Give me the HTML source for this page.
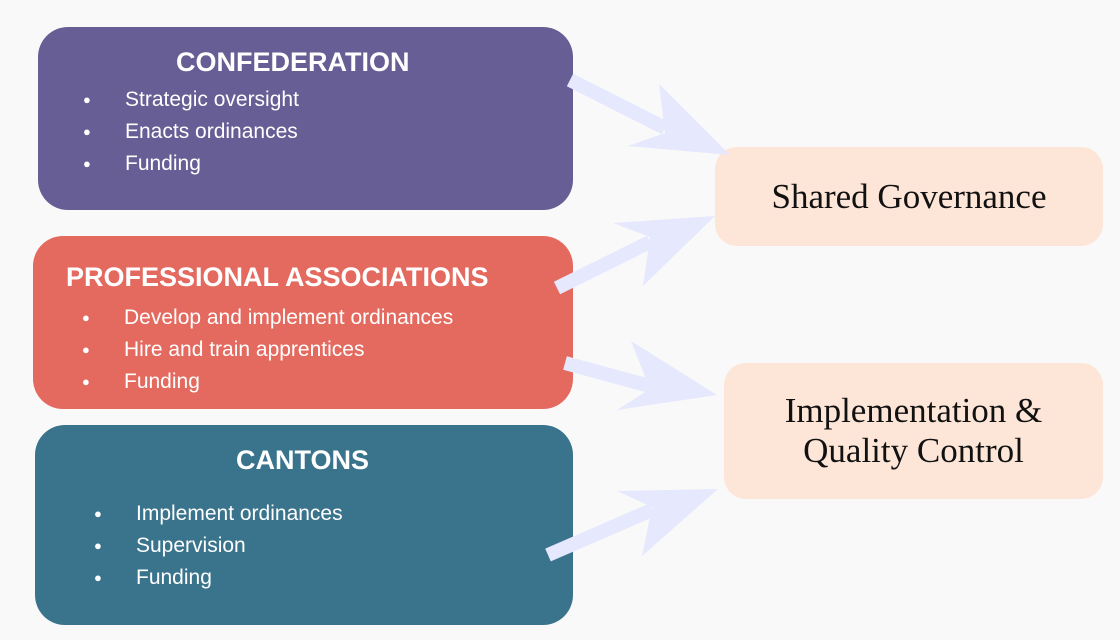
<!DOCTYPE html>
<html><head><style>
body{margin:0;width:1120px;height:640px;background:#f9f9f9;position:relative;overflow:hidden;font-family:"Liberation Sans",sans-serif}
.b{position:absolute;border-radius:30px;color:#fff}
.t{position:absolute;font-weight:bold;font-size:27px;white-space:nowrap}
.l{position:absolute;font-size:21px;line-height:32px;white-space:nowrap}
.l div::before{content:"●";font-size:13px;position:absolute;margin-left:-42px}
.r{position:absolute;background:#fde6d8;border-radius:22px;font-family:"Liberation Serif",serif;font-size:35px;color:#111;text-align:center;display:flex;align-items:center;justify-content:center;line-height:40px}
</style></head><body>
<div class="b" style="left:38px;top:27px;width:535px;height:183px;background:#665e94">
<div class="t" style="left:138px;top:20px">CONFEDERATION</div>
<div class="l" style="left:87px;top:57px"><div>Strategic oversight</div><div>Enacts ordinances</div><div>Funding</div></div></div>
<div class="b" style="left:33px;top:236px;width:540px;height:173px;background:#e46a5f">
<div class="t" style="left:33px;top:26px">PROFESSIONAL ASSOCIATIONS</div>
<div class="l" style="left:91px;top:66px"><div>Develop and implement ordinances</div><div>Hire and train apprentices</div><div>Funding</div></div></div>
<div class="b" style="left:35px;top:425px;width:538px;height:200px;background:#3a748c">
<div class="t" style="left:201px;top:20px">CANTONS</div>
<div class="l" style="left:101px;top:73px"><div>Implement ordinances</div><div>Supervision</div><div>Funding</div></div></div>
<div class="r" style="left:715px;top:147px;width:388px;height:99px">Shared Governance</div>
<div class="r" style="left:724px;top:363px;width:379px;height:136px">Implementation &amp;<br>Quality Control</div>
<svg width="1120" height="640" style="position:absolute;left:0;top:0">
<g fill="#e6e8fd" stroke="#e6e8fd">
<line x1="570" y1="80" x2="665" y2="128" stroke-width="14"/>
<polygon points="730,155 659,84 665,133 628,146" stroke="none"/>
<line x1="557" y1="288" x2="650" y2="242" stroke-width="14"/>
<polygon points="715,216 613,223 650,237 643,286" stroke="none"/>
<line x1="565" y1="363" x2="650" y2="386" stroke-width="14"/>
<polygon points="717,395 631,341 650,389 617,410" stroke="none"/>
<line x1="548" y1="555" x2="652" y2="510" stroke-width="14"/>
<polygon points="718,489 617,491 652,507 642,556" stroke="none"/>
</g></svg>
</body></html>
